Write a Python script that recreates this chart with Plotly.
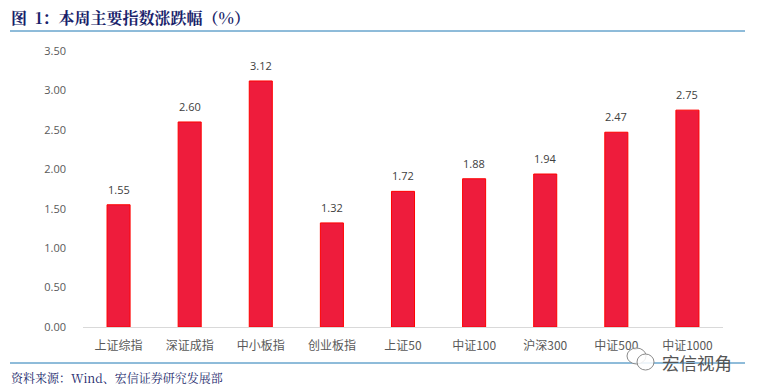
import plotly.graph_objects as go

categories = ["上证综指", "深证成指", "中小板指", "创业板指", "上证50", "中证100", "沪深300", "中证500", "中证1000"]
values = [1.55, 2.60, 3.12, 1.32, 1.72, 1.88, 1.94, 2.47, 2.75]
y_ticks = [0, 0.5, 1, 1.5, 2, 2.5, 3, 3.5]

W, H = 757, 392
L, R, T, B = 83, 34, 51, 65
CJK = "Noto Sans CJK SC, Liberation Sans, sans-serif"
SERIF = "Noto Serif CJK SC, Noto Sans CJK SC, DejaVu Serif, serif"

fig = go.Figure(go.Bar(
    x=categories, y=values,
    marker=dict(color="#EE1C3C", line=dict(color="#FF0000", width=1)),
    width=0.324,
))
fig.update_layout(
    width=W, height=H, margin=dict(l=L, r=R, t=T, b=B, pad=0),
    paper_bgcolor="white", plot_bgcolor="white", showlegend=False,
    xaxis=dict(type="category", showgrid=False, showline=True, linecolor="#D9D9D9", linewidth=1,
               ticks="", ticklabelstandoff=8,
               tickfont=dict(family=CJK, size=12, color="#595959"), tickangle=0),
    yaxis=dict(range=[0, 3.5], tickvals=y_ticks, tickformat=".2f", showgrid=False, showline=False,
               ticks="", ticklabelstandoff=16,
               tickfont=dict(family="Open Sans, sans-serif", size=11, color="#595959"), zeroline=False),
)
for c, v in zip(categories, values):
    fig.add_annotation(x=c, y=v, text=f"{v:.2f}", showarrow=False, yanchor="bottom", yshift=6,
                       font=dict(family="Open Sans, sans-serif", size=11, color="#404040"))
for yy in (31, 363):
    fig.add_shape(type="line", xref="paper", yref="paper",
                  x0=(10 - L) / (W - L - R), x1=(745 - L) / (W - L - R),
                  y0=(H - B - yy) / (H - T - B), y1=(H - B - yy) / (H - T - B),
                  line=dict(color="#1F78B4", width=1))
def note(x, y, text, size, color, family, anchor="left"):
    fig.add_annotation(xref="paper", yref="paper", showarrow=False, text=text,
                       x=(x - L) / (W - L - R), y=(H - B - y) / (H - T - B),
                       xanchor=anchor, yanchor="middle", align="left",
                       font=dict(size=size, color=color, family=family), borderpad=0)
note(10, 18, "<b>图\u00a0\u00a01：本周主要指数涨跌幅（%）</b>", 16, "#1A1F6B", SERIF)
note(10, 377, "资料来源：Wind、宏信证券研究发展部", 12, "#1A1F6B", SERIF)
for x0, y0, x1, y1 in [(627, 348, 646, 364), (637, 354, 654, 370)]:
    fig.add_shape(type="circle", xref="paper", yref="paper",
                  x0=(x0 - L) / (W - L - R), x1=(x1 - L) / (W - L - R),
                  y0=(H - B - y0) / (H - T - B), y1=(H - B - y1) / (H - T - B),
                  line=dict(color="#8A8A8A", width=1), fillcolor="rgba(255,255,255,0.85)")
note(661, 362, "宏信视角", 17.5, "#555555", CJK)
fig.write_html("out.html", config={"displayModeBar": False}, post_script="document.body.style.margin='0';")
